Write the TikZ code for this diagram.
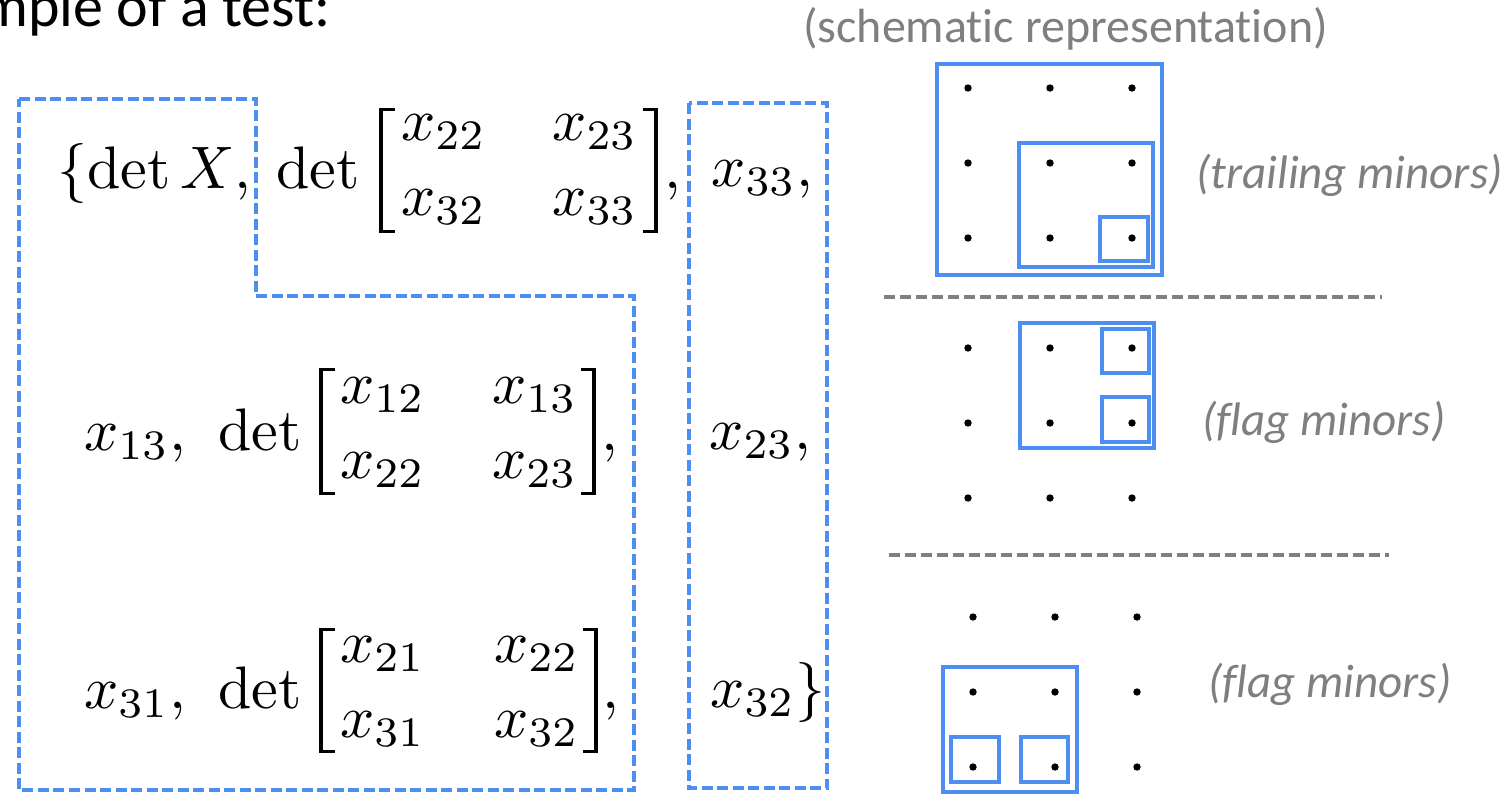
\documentclass[tikz,border=0pt]{standalone}
\usepackage{amsmath}
\usepackage{fontspec}
\newfontfamily\calfont[Ligatures=NoCommon]{Carlito}
\definecolor{myblue}{RGB}{76,143,240}
\definecolor{mygray}{RGB}{127,127,127}
\tikzset{
  mathnode/.style={inner sep=0pt, anchor=base west, scale=6.0, font=\fontsize{10}{12.1}\selectfont},
  graytext/.style={inner sep=0pt, anchor=base west, text=mygray, font=\calfont\fontsize{47}{56}\selectfont},
  bluedash/.style={draw=myblue, line width=3.5pt, dash pattern=on 11pt off 4.5pt},
  graydash/.style={draw=mygray, line width=4pt, dash pattern=on 11pt off 5pt},
  bluebox/.style={draw=myblue, line width=3.8pt},
  brk/.style={draw=black, line width=3.4pt, line join=miter},
  dotfill/.style={fill=black}
}
\begin{document}
\begin{tikzpicture}[x=1pt,y=-1pt]
\useasboundingbox (0,0) rectangle (1506,795);
% title
\node[inner sep=0pt, anchor=base east, font=\calfont\fontsize{60}{72}\selectfont] (title) at (331,27) {Example of a test:};
% dashed groups
\draw[bluedash] (19,99) -- (256,99) -- (256,296) -- (634,296) -- (634,790) -- (19,790) -- cycle;
\draw[bluedash] (689,103) rectangle (827,788);
% ---- top row
\node[mathnode] (a1) at (56,188) {$\{\det X$};
\node[mathnode] (a1c) at (233,188) {$,$};
\node[mathnode] (a2) at (275,188) {$\det$};
\node[mathnode] (a22) at (400,140) {$x_{22}$};
\node[mathnode] (a23) at (551,140) {$x_{23}$};
\node[mathnode] (a32) at (400,215) {$x_{32}$};
\node[mathnode] (a33) at (551,215) {$x_{33}$};
\draw[brk] (395,109.5) -- (381,109.5) -- (381,231.5) -- (395,231.5);
\draw[brk] (643,109.5) -- (656,109.5) -- (656,231.5) -- (643,231.5);
\node[mathnode] (a2c) at (663,188) {$,$};
\node[mathnode] (a3) at (710,186) {$x_{33},$};
% ---- middle row
\node[mathnode] (b1) at (83,450) {$x_{13},$};
\node[mathnode] (b2) at (217,450) {$\det$};
\node[mathnode] (b12) at (339,403) {$x_{12}$};
\node[mathnode] (b13) at (491,403) {$x_{13}$};
\node[mathnode] (b22) at (339,478) {$x_{22}$};
\node[mathnode] (b23) at (491,478) {$x_{23}$};
\draw[brk] (335,369.5) -- (321,369.5) -- (321,493.5) -- (335,493.5);
\draw[brk] (581,369.5) -- (594,369.5) -- (594,493.5) -- (581,493.5);
\node[mathnode] (b2c) at (600,450) {$,$};
\node[mathnode] (b3) at (708,449) {$x_{23},$};
% ---- bottom row
\node[mathnode] (c1) at (83,708) {$x_{31},$};
\node[mathnode] (c2) at (217,708) {$\det$};
\node[mathnode] (c21) at (339,662) {$x_{21}$};
\node[mathnode] (c22) at (493,662) {$x_{22}$};
\node[mathnode] (c31) at (339,737) {$x_{31}$};
\node[mathnode] (c32) at (493,737) {$x_{32}$};
\draw[brk] (335,629.5) -- (321,629.5) -- (321,751.5) -- (335,751.5);
\draw[brk] (583,629.5) -- (596,629.5) -- (596,751.5) -- (583,751.5);
\node[mathnode] (c2c) at (601,708) {$,$};
\node[mathnode] (c3) at (709,707) {$x_{32}\}$};
% schematic
\node[graytext, font=\calfont\fontsize{48}{58}\selectfont] (t1) at (803,42) {(schematic representation)};
\node[graytext] (t2) at (1196,188) {\textit{(trailing minors)}};
\node[graytext] (t3) at (1202,435) {\textit{(flag minors)}};
\node[graytext] (t4) at (1208,697) {\textit{(flag minors)}};
% separators
\draw[graydash] (884,297) -- (1382,297);
\draw[graydash] (889,555) -- (1389,555);
% grid 1
\foreach \cx in {968,1050,1132}{\foreach \cy in {88,163,238}{\fill[dotfill] (\cx,\cy) circle[radius=3.7pt];}}
\draw[bluebox] (937,64) rectangle (1162,275);
\draw[bluebox] (1019,143) rectangle (1153,267);
\draw[bluebox] (1100,217) rectangle (1148,261);
% grid 2
\foreach \cx in {968,1050,1132}{\foreach \cy in {348,423,498}{\fill[dotfill] (\cx,\cy) circle[radius=3.7pt];}}
\draw[bluebox] (1020,323) rectangle (1154,448);
\draw[bluebox] (1102,329) rectangle (1149,373);
\draw[bluebox] (1102,397) rectangle (1149,442);
% grid 3
\foreach \cx in {973,1055,1137}{\foreach \cy in {617,692,767}{\fill[dotfill] (\cx,\cy) circle[radius=3.7pt];}}
\draw[bluebox] (943,667) rectangle (1077,792);
\draw[bluebox] (951,737) rectangle (999,782);
\draw[bluebox] (1021,737) rectangle (1068,782);
\end{tikzpicture}
\end{document}
